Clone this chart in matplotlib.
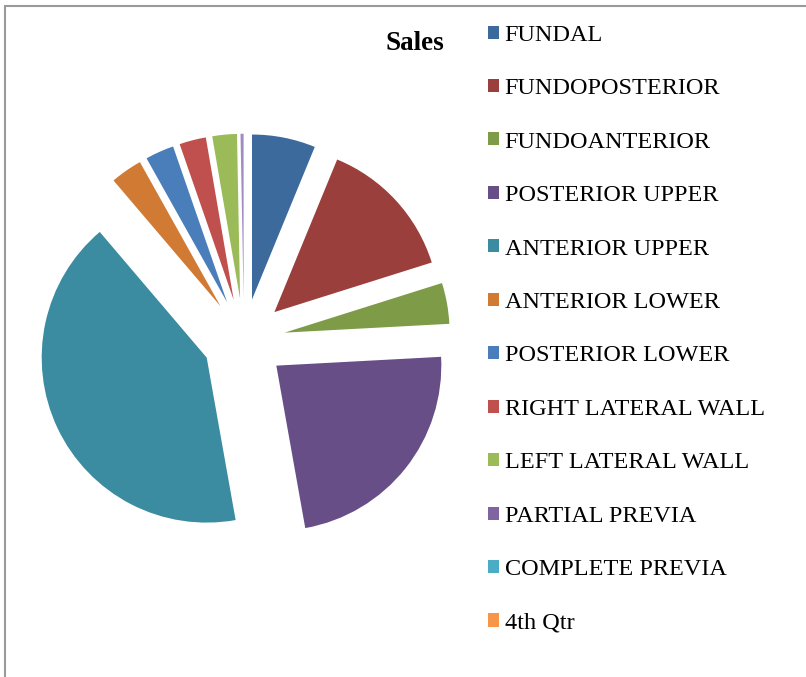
import matplotlib.pyplot as plt
from matplotlib.patches import Patch, Rectangle

plt.rcParams['font.family'] = ['Liberation Serif', 'DejaVu Serif']

# data (share of the pie, %)
labels = ['FUNDAL', 'FUNDOPOSTERIOR', 'FUNDOANTERIOR', 'POSTERIOR UPPER',
          'ANTERIOR UPPER', 'ANTERIOR LOWER', 'POSTERIOR LOWER',
          'RIGHT LATERAL WALL', 'LEFT LATERAL WALL', 'PARTIAL PREVIA',
          'COMPLETE PREVIA', '4th Qtr']
values = [6.2, 13.9, 4.0, 23.0, 41.5, 3.1, 2.8, 2.6, 2.4, 0.3, 0.0, 0.0]
colors = ['#3D6A9D', '#9B3F3D', '#7E9B47', '#674E87', '#3B8CA0', '#D07A33',
          '#4A7EBB', '#C0504D', '#9BBB59', '#A08CC4', '#4BACC6', '#F79646']
legend_colors = ['#3D6A9D', '#9B3F3D', '#7E9B47', '#674E87', '#3B8CA0', '#D07A33',
                 '#4A7EBB', '#C0504D', '#9BBB59', '#8064A2', '#4BACC6', '#F79646']

W, H = 806, 677
fig = plt.figure(figsize=(W / 100, H / 100), dpi=100)

# outer chart frame (only top/left visible)
fig.add_artist(Rectangle((5 / W, -0.05), 1.2, 1 - 6 / H + 0.05,
                         transform=fig.transFigure, fill=False,
                         edgecolor='#9a9a9a', linewidth=1.5))

# pie axes: centre (244, 340) px, radius 165 px
r = 165
lim = 1.3
side = 2 * lim * r
cx, cy = 244, 340
ax = fig.add_axes([(cx - side / 2) / W, (H - cy - side / 2) / H, side / W, side / H])
ax.pie(values, colors=colors, startangle=90, counterclock=False,
       explode=[0.25] * len(values), wedgeprops=dict(linewidth=0))
ax.set_xlim(-lim, lim)
ax.set_ylim(-lim, lim)
ax.set_aspect('equal')
ax.axis('off')

fig.text(415 / W, 1 - 44 / H, 'Sales', fontsize=19.5, fontweight='bold',
         ha='center', va='center')

handles = [Patch(facecolor=c, edgecolor='none') for c in legend_colors]
fig.legend(handles, labels, loc='upper left', bbox_to_anchor=(478 / W, 1 - 15 / H),
           frameon=False, fontsize=17.5, handlelength=0.45, handleheight=0.45,
           handletextpad=0.25, labelspacing=1.335, borderaxespad=0)

fig.savefig('out.png', dpi=100)
